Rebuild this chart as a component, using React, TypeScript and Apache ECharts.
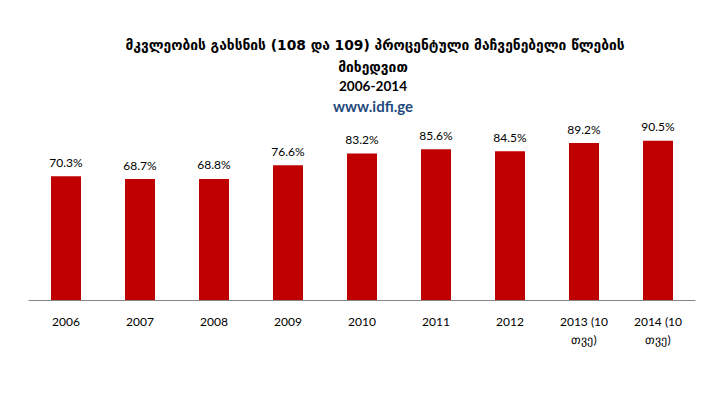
import React, { useEffect, useRef } from "react";
import * as echarts from "echarts";

const categories = ["2006", "2007", "2008", "2009", "2010", "2011", "2012", "2013 (10\nთვე)", "2014 (10\nთვე)"];
const values = [70.3, 68.7, 68.8, 76.6, 83.2, 85.6, 84.5, 89.2, 90.5];
const titleLines = ["მკვლეობის გახსნის (108 და 109) პროცენტული მაჩვენებელი წლების", "მიხედვით", "2006-2014"];
const siteText = "www.idfi.ge";

export default function App() {
  const ref = useRef<HTMLDivElement>(null);
  useEffect(() => {
    const chart = echarts.init(ref.current!, null, { renderer: "svg" });
    const titleStyle = { fontFamily: "DejaVu Sans", fontSize: 13.8, fontWeight: "bold", fill: "#000", textAlign: "center", textVerticalAlign: "middle" };
    chart.setOption({
      animation: false,
      graphic: [
        { type: "text", x: 375, y: 45, style: { ...titleStyle, text: titleLines[0] } },
        { type: "text", x: 373, y: 67, style: { ...titleStyle, text: titleLines[1] } },
        { type: "text", x: 373, y: 86, style: { ...titleStyle, fontFamily: "Lato, Open Sans", fontSize: 13.6, text: titleLines[2] } },
        { type: "text", x: 373, y: 106, style: { ...titleStyle, fontFamily: "Lato, Open Sans", fontSize: 15, fill: "#1F497D", text: siteText } },
      ],
      grid: { left: 29, right: 26, top: 124, bottom: 98, containLabel: false },
      xAxis: {
        type: "category",
        data: categories,
        axisLine: { lineStyle: { color: "#868686", width: 1 } },
        axisTick: { show: false },
        axisLabel: {
          color: "#000",
          fontFamily: "Lato, Open Sans",
          fontSize: 12,
          lineHeight: 18,
          margin: 12,
          interval: 0,
        },
      },
      yAxis: {
        type: "value",
        min: 0,
        max: 100,
        show: false,
        splitLine: { show: false },
      },
      series: [
        {
          type: "bar",
          data: values,
          barWidth: 30,
          itemStyle: { color: "#C00000" },
          label: {
            show: true,
            position: "top",
            distance: 8,
            formatter: (p: any) => p.value.toFixed(1) + "%",
            color: "#000",
            fontFamily: "Lato, Open Sans",
            fontSize: 12,
          },
        },
      ],
    });
    return () => chart.dispose();
  }, []);
  return <div ref={ref} style={{ width: 721, height: 398, margin: -8 }} />;
}
